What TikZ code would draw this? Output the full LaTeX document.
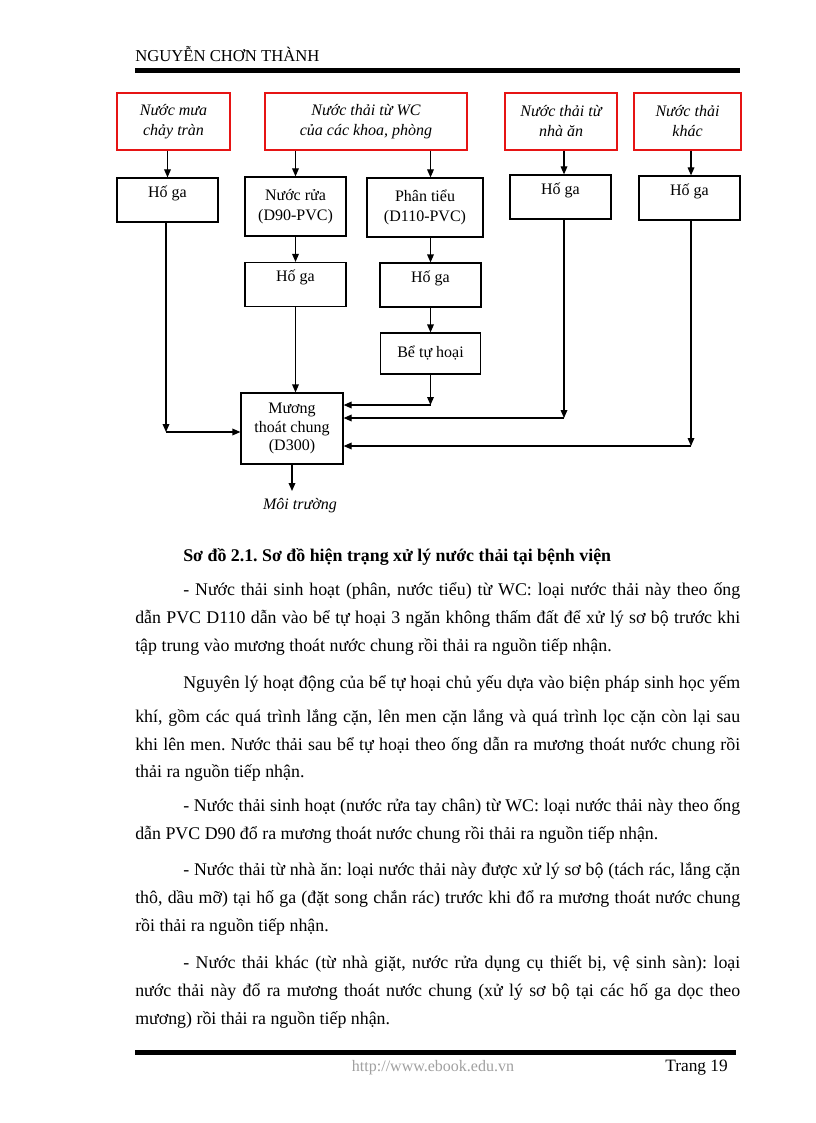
\documentclass[tikz,border=0pt]{standalone}
\usepackage{fontspec}
\setmainfont{Liberation Serif}
\usepackage{tikz}
\usetikzlibrary{arrows.meta, positioning}
\definecolor{srcred}{RGB}{230, 20, 20}
\definecolor{linkgray}{RGB}{160, 160, 160}
\newcommand{\jline}[2]{\makebox[#1][s]{#2}}
\frenchspacing

\begin{document}
\begin{tikzpicture}[
  x=0.75pt, y=-0.75pt,
  box/.style={draw, line width=0.9pt, font=\fontsize{12}{15}\selectfont,
              align=center, inner sep=2pt},
  srcbox/.style={box, draw=srcred, font=\fontsize{12}{15}\selectfont\itshape,
              minimum height=42.75pt},
  hoga/.style={box, minimum width=75.75pt, minimum height=33pt,
              inner ysep=3pt, text height=11.5pt, text depth=15.5pt},
  arr/.style={-{Triangle[length=6pt, width=5pt]}, line width=0.9pt},
  body/.style={anchor=base west, inner sep=0pt, font=\fontsize{13.4}{16}\selectfont},
]
\fill[white] (0,0) rectangle (816,1123);
\useasboundingbox (0,0) rectangle (816,1123);

% Header
\node[anchor=base west, inner sep=0pt, font=\fontsize{12.5}{15}\selectfont] (head) at (135,62) {NGUYỄN CHƠN THÀNH};
\fill (135,68) rectangle (740,73);

% Sources
\node[srcbox, minimum width=84.75pt] (rain) at (173.5,121.5) {Nước mưa\\chảy tràn};
\node[srcbox, minimum width=151.5pt] (wc) at (366,121.5) {Nước thải từ WC\\của các khoa, phòng};
\node[srcbox, minimum width=84pt] (kitchen) at (561,121.5) {Nước thải từ\\nhà ăn};
\node[srcbox, minimum width=80.25pt] (other) at (687.5,121.5) {Nước thải\\khác};

% Second row
\node[hoga] (hg1) at (167.5,200) {Hố ga};
\node[box, minimum width=75.75pt, minimum height=44.25pt] (wash) at (295.5,206.5) {Nước rửa\\(D90-PVC)};
\node[box, minimum width=87pt, minimum height=44.25pt] (feces) at (425,207.5) {Phân tiểu\\(D110-PVC)};
\node[hoga] (hg3) at (560.5,197) {Hố ga};
\node[hoga] (hg4) at (689.5,198) {Hố ga};

% Third and fourth row
\node[hoga] (hg2a) at (295.5,284.5) {Hố ga};
\node[hoga] (hg2b) at (430.5,285) {Hố ga};
\node[box, minimum width=75pt, minimum height=30.75pt] (septic) at (430.5,353.5) {Bể tự hoại};

% Common drain
\node[box, minimum width=76.5pt, minimum height=53.25pt, font=\fontsize{12}{14}\selectfont] (drain) at (292,428.5) {Mương\\thoát chung\\(D300)};
\node[font=\fontsize{12}{15}\selectfont\itshape, inner sep=1pt] (env) at (300,506) {Môi trường};

\coordinate (c1) at (166,432);
\coordinate (c2) at (430.5,405);
\coordinate (c3) at (564,418);
\coordinate (c4) at (691,446);
\coordinate (out) at (292,491);

% Connectors
\draw[arr] (rain.south -| hg1) -- (hg1);
\draw[arr] (wc.south -| wash) -- (wash);
\draw[arr] (wc.south -| hg2b) -- (feces.north -| hg2b);
\draw[arr] (kitchen.south -| c3) -- (hg3.north -| c3);
\draw[arr] (other.south -| c4) -- (hg4.north -| c4);
\draw[arr] (wash) -- (hg2a);
\draw[arr] (feces.south -| hg2b) -- (hg2b);
\draw[arr] (hg2b) -- (septic);
\draw[arr] (hg2a) -- (hg2a |- drain.north);
\draw[arr] (hg1.south -| c1) -- (c1);
\draw[arr] (c1) -- (drain.west |- c1);
\draw[arr] (septic) -- (c2);
\draw[arr] (c2) -- (drain.east |- c2);
\draw[arr] (hg3.south -| c3) -- (c3);
\draw[arr] (c3) -- (drain.east |- c3);
\draw[arr] (hg4.south -| c4) -- (c4);
\draw[arr] (c4) -- (drain.east |- c4);
\draw[arr] (drain.south -| out) -- (out);

% Caption and text
\node[body, font=\fontsize{13.4}{16}\selectfont\bfseries] (cap) at (183,561) {Sơ đồ 2.1. Sơ đồ hiện trạng xử lý nước thải tại bệnh viện};
\node[body] (p1a) at (183,595) {\jline{417.75pt}{- Nước thải sinh hoạt (phân, nước tiểu) từ WC: loại nước thải này theo ống}};
\node[body] (p1b) at (135,623) {\jline{453.75pt}{dẫn PVC D110 dẫn vào bể tự hoại 3 ngăn không thấm đất để xử lý sơ bộ trước khi}};
\node[body] (p1c) at (135,651) {tập trung vào mương thoát nước chung rồi thải ra nguồn tiếp nhận.};
\node[body] (p2a) at (183,688) {\jline{417.75pt}{Nguyên lý hoạt động của bể tự hoại chủ yếu dựa vào biện pháp sinh học yếm}};
\node[body] (p2b) at (135,722) {\jline{453.75pt}{khí, gồm các quá trình lắng cặn, lên men cặn lắng và quá trình lọc cặn còn lại sau}};
\node[body] (p2c) at (135,750) {\jline{453.75pt}{khi lên men. Nước thải sau bể tự hoại theo ống dẫn ra mương thoát nước chung rồi}};
\node[body] (p2d) at (135,777) {thải ra nguồn tiếp nhận.};
\node[body] (p3a) at (183,811) {\jline{417.75pt}{- Nước thải sinh hoạt (nước rửa tay chân) từ WC: loại nước thải này theo ống}};
\node[body] (p3b) at (135,839) {dẫn PVC D90 đổ ra mương thoát nước chung rồi thải ra nguồn tiếp nhận.};
\node[body] (p4a) at (183,875) {\jline{417.75pt}{- Nước thải từ nhà ăn: loại nước thải này được xử lý sơ bộ (tách rác, lắng cặn}};
\node[body] (p4b) at (135,903) {\jline{453.75pt}{thô, dầu mỡ) tại hố ga (đặt song chắn rác) trước khi đổ ra mương thoát nước chung}};
\node[body] (p4c) at (135,931) {rồi thải ra nguồn tiếp nhận.};
\node[body] (p5a) at (183,968) {\jline{417.75pt}{- Nước thải khác (từ nhà giặt, nước rửa dụng cụ thiết bị, vệ sinh sàn): loại}};
\node[body] (p5b) at (135,996) {\jline{453.75pt}{nước thải này đổ ra mương thoát nước chung (xử lý sơ bộ tại các hố ga dọc theo}};
\node[body] (p5c) at (135,1024) {mương) rồi thải ra nguồn tiếp nhận.};

% Footer
\fill (135,1050) rectangle (736,1055);
\node[anchor=base, inner sep=0pt, text=linkgray, font=\fontsize{12}{14}\selectfont] (url) at (433,1071) {http://www.ebook.edu.vn};
\node[anchor=base east, inner sep=0pt, font=\fontsize{13}{15}\selectfont] (page) at (728,1071) {Trang 19};
\end{tikzpicture}
\end{document}
